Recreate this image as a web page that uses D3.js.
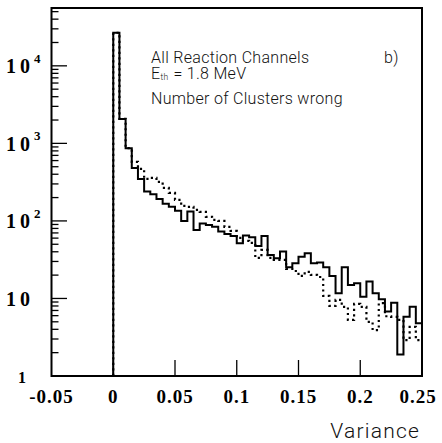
<!DOCTYPE html>
<html>
<head>
<meta charset="utf-8">
<script src="https://cdn.jsdelivr.net/npm/d3@7"></script>
<style>
  body { margin: 0; background: #fff; }
  svg { display: block; }
</style>
</head>
<body>
<script>
var width = 442, height = 443;

// histogram bins: 0 .. 0.25 in steps of 0.005
var binLo = 0, binWidth = 0.005;

// solid line: all reaction channels
var solidCounts = [26700, 2070, 867, 483, 348, 240, 220, 192, 166, 152,
                   135, 100, 132, 76.5, 92.9, 88.8, 84.4, 72.8, 68, 64,
                   51.6, 65, 61.6, 47.6, 64, 36.4, 33, 40.2, 25.3, 28.5,
                   34.6, 38.3, 28.5, 29, 25.3, 19.5, 11.7, 25.3, 14.9, 15.7,
                   10.5, 16.5, 11.7, 9.8, 6.8, 8.8, 1.9, 5.8, 7.8, 4.8];

// dotted line
var dottedCounts = [26700, 2070, 867, 577, 469, 348, 359, 319, 267, 230,
                    187, 156, 152, 139, 131, 113, 103, 100, 83.7, 74.3,
                    60.3, 55.2, 52, 33.3, 42.2, 33.3, 31.4, 31.4, 24, 22.6,
                    19.5, 22, 20.1, 18.9, 10.8, 8, 9.6, 7.8, 5.3, 8.5,
                    7.8, 5, 3.9, 8.7, 5.9, 5.8, 5.3, 2.9, 4.3, 2.9];

var xTicks = [-0.05, 0, 0.05, 0.1, 0.15, 0.2, 0.25];
var xTickLabels = ["-0.05", "0", "0.05", "0.1", "0.15", "0.2", "0.25"];
var yExponents = [0, 1, 2, 3, 4];

var legendLines = ["All Reaction Channels", "= 1.8 MeV", "Number of Clusters wrong"];

var svg = d3.select("body")
            .append("svg")
            .attr("width", width)
            .attr("height", height);

var x = d3.scaleLinear()
          .domain([-0.05, 0.25])
          .range([51.5, 422]);

var y = d3.scaleLog()
          .domain([1, 55700])
          .range([376, 8]);

var serif = "'Liberation Serif', 'Times New Roman', serif";
var sans = "Roboto, 'Liberation Sans', sans-serif";

// turn counts into step points, starting from the baseline at the first edge
function steps(counts) {
  var pts = [[binLo, 1]];
  counts.forEach(function(c, i) { pts.push([binLo + i * binWidth, c]); });
  pts.push([binLo + counts.length * binWidth, counts[counts.length - 1]]);
  return pts;
}

var line = d3.line()
             .x(function(d) { return x(d[0]); })
             .y(function(d) { return y(d[1]); })
             .curve(d3.curveStepAfter);

svg.append("path")
   .attr("d", line(steps(dottedCounts)))
   .attr("fill", "none")
   .attr("stroke", "#000")
   .attr("stroke-width", 2.2)
   .attr("stroke-dasharray", "2.2,3.3");

svg.append("path")
   .attr("d", line(steps(solidCounts)))
   .attr("fill", "none")
   .attr("stroke", "#000")
   .attr("stroke-width", 2);

// left axis with inside ticks, major and minor
var minor = [];
yExponents.forEach(function(e) {
  for (var m = 1; m < 10; m++) {
    var v = m * Math.pow(10, e);
    if (v <= y.domain()[1]) minor.push(v);
  }
});

svg.append("g")
   .selectAll("line")
   .data(minor)
   .enter()
   .append("line")
   .attr("x1", x(-0.05))
   .attr("x2", function(d) { return x(-0.05) + (Math.log10(d) % 1 === 0 ? 15.5 : 7); })
   .attr("y1", function(d) { return y(d); })
   .attr("y2", function(d) { return y(d); })
   .attr("stroke", "#000")
   .attr("stroke-width", 1.3);

// bottom ticks pointing up
svg.append("g")
   .selectAll("line")
   .data(xTicks.slice(1, -1))
   .enter()
   .append("line")
   .attr("x1", function(d) { return x(d); })
   .attr("x2", function(d) { return x(d); })
   .attr("y1", 376)
   .attr("y2", 360)
   .attr("stroke", "#000")
   .attr("stroke-width", 1.3);

// frame
svg.append("rect")
   .attr("x", x(-0.05))
   .attr("y", y(55700))
   .attr("width", x(0.25) - x(-0.05))
   .attr("height", y(1) - y(55700))
   .attr("fill", "none")
   .attr("stroke", "#000")
   .attr("stroke-width", 2);

// y labels
var ylab = svg.append("g")
              .attr("font-family", serif)
              .attr("font-weight", "bold");

yExponents.forEach(function(e) {
  var ty = y(Math.pow(10, e));
  if (e === 0) {
    ylab.append("text")
        .attr("x", 18)
        .attr("y", 383)
        .attr("font-size", 16)
        .text("1");
    return;
  }
  var t = ylab.append("text")
              .attr("x", 6)
              .attr("y", ty + 7.5)
              .attr("font-size", 20)
              .attr("letter-spacing", 4)
              .text("10");
  if (e > 1) {
    t.append("tspan")
     .attr("dx", 0)
     .attr("dy", -10.5)
     .attr("font-size", 13)
     .attr("letter-spacing", 0)
     .text(e);
  }
});

// x labels
svg.append("g")
   .attr("font-family", serif)
   .attr("font-weight", "bold")
   .attr("font-size", 19)
   .attr("text-anchor", "middle")
   .selectAll("text")
   .data(xTicks)
   .enter()
   .append("text")
   .attr("x", function(d, i) { return x(d) - (i === xTicks.length - 1 ? 4 : 0); })
   .attr("y", 403)
   .attr("letter-spacing", 1)
   .text(function(d, i) { return xTickLabels[i]; });

svg.append("text")
   .attr("x", 420)
   .attr("y", 438)
   .attr("text-anchor", "end")
   .attr("font-family", sans)
   .attr("font-weight", 300)
   .attr("font-size", 21)
   .attr("letter-spacing", 1.2)
   .attr("fill", "#111")
   .text("Variance");

// legend text
var leg = svg.append("g")
             .attr("font-family", sans)
             .attr("font-weight", 300)
             .attr("font-size", 16)
             .attr("letter-spacing", 0.3)
             .attr("fill", "#111");

leg.append("text")
   .attr("x", 151)
   .attr("y", 63)
   .text(legendLines[0]);

var eth = leg.append("text")
             .attr("x", 151)
             .attr("y", 78.5);
eth.append("tspan").text("E");
eth.append("tspan").attr("font-size", 8.5).attr("dy", 1).text("th");
eth.append("tspan").attr("dy", -1).attr("dx", 5).text(legendLines[1]);

leg.append("text")
   .attr("x", 151)
   .attr("y", 104)
   .text(legendLines[2]);

leg.append("text")
   .attr("x", 384)
   .attr("y", 63)
   .text("b)");
</script>
</body>
</html>
